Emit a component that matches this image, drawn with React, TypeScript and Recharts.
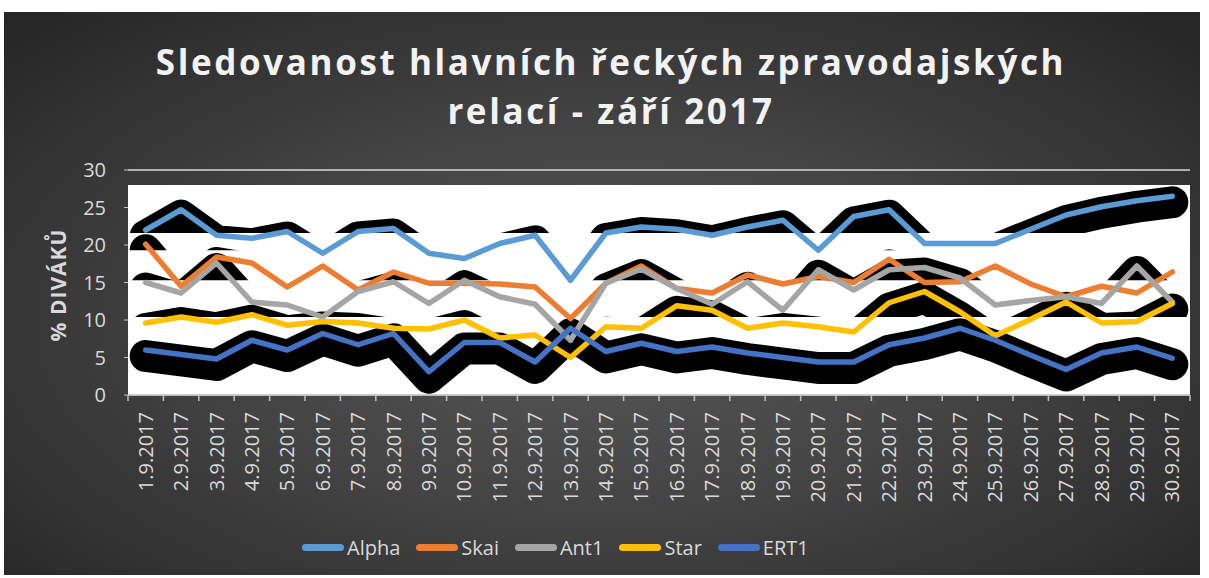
import { LineChart, Line, XAxis, YAxis, CartesianGrid, ReferenceArea } from 'recharts'

const days = [
  '1.9.2017', '2.9.2017', '3.9.2017', '4.9.2017', '5.9.2017', '6.9.2017', '7.9.2017', '8.9.2017', '9.9.2017', '10.9.2017',
  '11.9.2017', '12.9.2017', '13.9.2017', '14.9.2017', '15.9.2017', '16.9.2017', '17.9.2017', '18.9.2017', '19.9.2017', '20.9.2017',
  '21.9.2017', '22.9.2017', '23.9.2017', '24.9.2017', '25.9.2017', '26.9.2017', '27.9.2017', '28.9.2017', '29.9.2017', '30.9.2017',
]

const alpha = [22.0, 24.7, 21.3, 20.9, 21.8, 18.9, 21.8, 22.2, 18.9, 18.2, 20.2, 21.3, 15.3, 21.6, 22.4, 22.1, 21.3, 22.4, 23.3, 19.3, 23.8, 24.7, 20.2, 20.2, 20.2, 22.1, 24.0, 25.1, 25.9, 26.5]
const skai = [20.1, 14.5, 18.4, 17.6, 14.4, 17.2, 14.0, 16.4, 14.9, 14.9, 14.8, 14.4, 10.2, 14.9, 17.2, 14.2, 13.6, 16.0, 14.8, 15.8, 15.0, 18.1, 15.0, 15.1, 17.2, 14.8, 13.1, 14.5, 13.6, 16.4]
const ant1 = [15.0, 13.6, 17.6, 12.4, 12.0, 10.4, 13.8, 15.1, 12.2, 15.3, 13.1, 12.1, 7.3, 14.9, 16.8, 14.2, 12.1, 15.1, 11.3, 16.7, 14.0, 16.7, 17.0, 15.6, 12.0, 12.6, 13.1, 12.2, 17.2, 12.4]
const star = [9.6, 10.4, 9.7, 10.7, 9.3, 9.8, 9.6, 8.9, 8.8, 10.0, 7.6, 8.0, 5.0, 9.1, 8.9, 11.9, 11.3, 8.9, 9.6, 9.1, 8.4, 12.3, 13.8, 11.1, 7.9, 10.1, 12.4, 9.6, 9.8, 12.2]
const ert1 = [6.0, 5.4, 4.8, 7.3, 6.0, 8.2, 6.7, 8.2, 3.1, 7.0, 7.0, 4.4, 8.9, 5.8, 6.9, 5.8, 6.4, 5.6, 5.0, 4.4, 4.4, 6.7, 7.6, 8.9, 7.3, 5.3, 3.4, 5.6, 6.4, 4.9]

const yTicks = [0, 5, 10, 15, 20, 25, 30]

// the exported chart has black drop shadows that only show above some level per series
const series = [
  { key: 'Alpha', color: '#5B9BD5', cut: 21.6 },
  { key: 'Skai', color: '#ED7D31', cut: 19.3 },
  { key: 'Ant1', color: '#A5A5A5', cut: 15.3 },
  { key: 'Star', color: '#FFC000', cut: 10.4 },
  { key: 'ERT1', color: '#4472C4', cut: 0 },
]

const data = days.map((day, i) => ({
  day,
  Alpha: alpha[i],
  Skai: skai[i],
  Ant1: ant1[i],
  Star: star[i],
  ERT1: ert1[i],
}))

const FONT = "'Open Sans', 'Liberation Sans', sans-serif"
const TEXT = '#d9d9d9'

function XTick(props: any) {
  const { x, y, payload, index } = props
  const half = payload && payload.offset ? payload.offset : 17.7
  return (
    <g>
      <line x1={x - half} x2={x - half} y1={y} y2={y + 6} stroke="#bfbfbf" strokeWidth={1.5} />
      {index === days.length - 1 && (
        <line x1={x + half} x2={x + half} y1={y} y2={y + 6} stroke="#bfbfbf" strokeWidth={1.5} />
      )}
      <text
        transform={`translate(${x + 7},${y + 17}) rotate(-90)`}
        textAnchor="end"
        fontSize={20}
        fontFamily={FONT}
        fill={TEXT}
      >
        {payload.value}
      </text>
    </g>
  )
}

export default function App() {
  const layers: any[] = []
  series.forEach((s, i) => {
    layers.push(
      <Line
        key={s.key + '-shadow'}
        yAxisId="shadow"
        dataKey={s.key}
        stroke="#000"
        strokeWidth={32}
        strokeLinecap="round"
        strokeLinejoin="round"
        dot={false}
        activeDot={false}
        legendType="none"
        isAnimationActive={false}
        zIndex={102 + i * 2}
      />
    )
    if (s.cut > 0) {
      layers.push(
        <ReferenceArea
          key={s.key + '-mask'}
          y1={0}
          y2={s.cut}
          fill="#fff"
          fillOpacity={1}
          stroke="none"
          zIndex={103 + i * 2}
        />
      )
    }
  })

  return (
    <div
      style={{
        position: 'absolute',
        left: 4,
        top: 12,
        width: 1196,
        height: 563,
        background: 'radial-gradient(ellipse 70% 75% at 50% 55%, #575757 0%, #444 45%, #262626 100%)',
        fontFamily: FONT,
      }}
    >
      <div
        style={{
          position: 'absolute',
          left: 0,
          top: 25,
          width: 1214,
          textAlign: 'center',
          color: '#f2f2f2',
          fontWeight: 700,
          fontSize: 35,
          letterSpacing: 2.6,
          lineHeight: '49px',
        }}
      >
        Sledovanost hlavních řeckých zpravodajských
        <br />
        relací - září 2017
      </div>

      <div
        style={{
          position: 'absolute',
          left: 54,
          top: 273,
          transform: 'translate(-50%, -50%) rotate(-90deg)',
          whiteSpace: 'nowrap',
          color: TEXT,
          fontWeight: 700,
          fontSize: 21,
          letterSpacing: 1,
        }}
      >
        % DIVÁKŮ
      </div>

      <LineChart width={1196} height={563} data={data} margin={{ top: 158, right: 10, bottom: 60, left: 64 }}>
        <CartesianGrid vertical={false} stroke="#d9d9d9" strokeWidth={1.5} />
        <ReferenceArea y1={0} y2={28} fill="#fff" fillOpacity={1} stroke="none" zIndex={101} />
        <XAxis
          dataKey="day"
          scale="band"
          interval={0}
          height={120}
          tickSize={0}
          tickMargin={0}
          tick={<XTick />}
          axisLine={{ stroke: '#bfbfbf', strokeWidth: 1.5 }}
          tickLine={false}
        />
        <YAxis
          domain={[0, 30]}
          ticks={yTicks}
          width={60}
          axisLine={false}
          tickSize={4}
          tickMargin={18}
          tickLine={{ stroke: '#bfbfbf' }}
          tick={{ fill: TEXT, fontSize: 20, fontFamily: FONT }}
        />
        <YAxis yAxisId="shadow" hide domain={[0.8, 30.8]} />
        {layers}
        {series.map(s => (
          <Line
            key={s.key}
            dataKey={s.key}
            stroke={s.color}
            strokeWidth={5.5}
            strokeLinecap="round"
            strokeLinejoin="round"
            dot={false}
            activeDot={false}
            isAnimationActive={false}
            zIndex={400}
          />
        ))}
      </LineChart>

      <div
        style={{
          position: 'absolute',
          left: 298,
          top: 523,
          height: 24,
          display: 'flex',
          alignItems: 'center',
          gap: 16,
          color: TEXT,
          fontSize: 20,
        }}
      >
        {series.map(s => (
          <div key={s.key} style={{ display: 'flex', alignItems: 'center' }}>
            <span style={{ width: 42, height: 7, borderRadius: 4, background: s.color, marginRight: 3 }} />
            <span>{s.key}</span>
          </div>
        ))}
      </div>
    </div>
  )
}
